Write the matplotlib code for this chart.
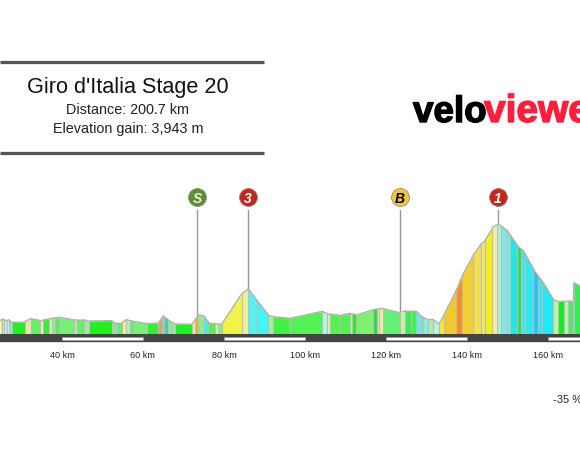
import numpy as np
import matplotlib
matplotlib.use("Agg")
import matplotlib.pyplot as plt
import matplotlib.patheffects as pe

plt.rcParams['font.family'] = ['Liberation Sans', 'DejaVu Sans']

profile_km = [24.69,25.35,25.84,26.34,26.83,27.41,27.65,30.86,30.94,32.26,34.73,35.39,37.04,39.34,43.21,45.68,46.50,52.26,53.08,54.73,55.80,57.61,60.90,63.78,65.02,66.25,67.90,72.01,73.82,75.06,76.37,79.42,84.36,86.0,90.94,92.18,96.30,
              104.28,105.60,108.65,111.11,112.76,116.88,118.93,123.29,124.69,127.57,128.56,130.45,131.52,133.09,134.32,137.20,138.93,141.57,143.62,144.45,146.50,147.74,149.80,152.68,153.91,156.79,158.85,161.32,162.55,165.02,166.26,166.42,167.90,168.7]
profile_m = [200,225,210,200,215,185,175,175,190,230,200,210,230,250,210,210,195,200,160,160,215,190,155,165,270,210,150,145,290,270,160,145,600,675,285,260,235,
             340,300,280,310,285,365,385,320,345,340,270,210,220,150,285,635,885,1185,1360,1395,1610,1650,1560,1310,1250,935,770,520,485,495,485,770,720,710]

segment_starts = [24.69,25.18,25.68,26.34,26.83,27.57,30.86,32.26,34.57,35.39,36.79,37.61,38.27,39.34,42.96,43.62,45.51,46.58,52.26,53.08,53.66,54.73,55.80,56.79,57.61,60.90,63.78,64.61,65.18,66.25,67.32,67.98,72.01,72.84,73.66,75.06,76.13,77.77,78.60,79.42,84.44,86.0,88.22,90.94,92.18,
                  96.30,104.28,105.52,106.18,108.73,111.11,111.53,112.68,116.71,117.78,118.36,119.18,123.38,124.69,126.09,127.49,128.56,129.22,130.45,131.52,133.09,134.32,137.29,138.85,141.57,143.54,144.45,146.09,147.41,148.31,149.80,150.62,152.43,153.25,154.40,156.38,157.61,158.52,161.32,162.47,164.03,165.02,166.26,166.42]
segment_end = 168.7
segment_colors = ['#eeee99','#c8f0b0','#b8f0e8','#eeeea0','#88e8e0','#22f022','#e0f0a0','#66f066','#e8f0c0','#33f033','#d0f0b0','#88f088','#55f055','#77f077','#b0f0a0','#66f066','#a8e8b0','#22f022','#88ee88','#88e8e0','#66ee66','#eeee99','#b0f0c0','#66ee66','#77f077','#33ee33','#d8a070','#77e077','#44c8c0','#88ee88','#b0f0e0','#22f022','#eeeea0','#f2b030','#88f088','#44eee8','#55f055','#e8f0a0','#88f088','#f2f24a','#eeee99','#55f2f0','#44f5f5','#a0f0a0','#44f044',
                  '#55f055','#b0f5e8','#e0f0a0','#55f055','#55f055','#d0e8c0','#22ee22','#80f070','#22dd44','#c0f0c0','#eeee99','#66f077','#c8f0a0','#33ee55','#44ee55','#66eeee','#88ee99','#88eee8','#b0f0a0','#b0f5e8','#f2ea30','#f2c830','#f59020','#f2d030','#f2e050','#f0e860','#f2f020','#eeeea0','#a8f0e0','#80e8e0','#80e8e8','#20e8e8','#30dd50','#40e8e8','#30e8f0','#30c0f0','#40e0f0','#20e8f5','#c0f0a0','#10ee20','#c0f0b0','#50e870','#999999','#33ee55']

tick_km = [40,60,80,100,120,140,160]
tick_labels = ['40 km','60 km','80 km','100 km','120 km','140 km','160 km']
marker_km = [73.33,85.93,123.46,147.65]
marker_text = ['S','3','B','1']
marker_colors = ['#5c8f2e','#c2281c','#f6c63a','#c2281c']
marker_text_colors = ['#e8f0e0','white','black','white']
band_starts = [40,80,120,160]
band_ends = [60,100,140,180]

title = "Giro d'Italia Stage 20"
subtitle = ['Distance: 200.7 km','Elevation gain: 3,943 m']

W, H = 580, 469
PX_PER_KM = 4.05
M_PER_PX = 15
km0 = 100/PX_PER_KM
fig = plt.figure(figsize=(W/100, H/100), dpi=100)
ax = fig.add_axes([0,0,1,1])
ax.set_xlim(km0, km0 + W/PX_PER_KM)
ax.set_ylim((334-H)*M_PER_PX, 334*M_PER_PX)
ax.axis('off')

edges = segment_starts + [segment_end]
pk, pm = np.array(profile_km), np.array(profile_m)
for a, b, c in zip(edges[:-1], edges[1:], segment_colors):
    inner = pk[(pk > a) & (pk < b)]
    xs = np.concatenate([[a], inner, [b]])
    ax.fill_between(xs, 0, np.interp(xs, pk, pm), color=c, lw=0, zorder=2)
ax.vlines(edges[1:-1], 0, np.interp(edges[1:-1], pk, pm), color='#bcbcbc', lw=0.8, zorder=3)
ax.plot(pk, pm, color='#b0b0b0', lw=1.0, zorder=4)

ax.axhspan(-120, 0, color='#444444', lw=0, zorder=5)
ax.axhline(-125, color='#d8d8d8', lw=0.6, zorder=5)
for a, b in zip(band_starts, band_ends):
    ax.fill_between([a, b], -85, -45, facecolor='white', edgecolor='#999999', lw=0.4, zorder=6)

for k, l in zip(tick_km, tick_labels):
    ax.text(k, (334-355)*M_PER_PX, l, ha='center', va='center', fontsize=6.6, color='#222222')

for k, t, c, tc in zip(marker_km, marker_text, marker_colors, marker_text_colors):
    top = np.interp(k, pk, pm)
    ax.plot([k, k], [top, (334-210)*M_PER_PX], color='#999999', lw=1.0, zorder=1)
    ax.scatter([k], [(334-197)*M_PER_PX], s=165, color=c, edgecolor='#888888', lw=0.6, zorder=7)
    ax.text(k, (334-197)*M_PER_PX, t, ha='center', va='center_baseline', color=tc, fontsize=10,
            fontweight='bold', style='italic', zorder=8)

def px(x, y):
    return x/W, 1 - y/H

for y in (62, 153):
    fig.add_artist(plt.Line2D([0, 264/W], [1-y/H, 1-y/H], color='#555555', lw=2.3, solid_capstyle='butt'))
fig.text(*px(128, 87), title, ha='center', va='center', fontsize=15.6, color='#111111')
fig.text(*px(128, 110), subtitle[0], ha='center', va='center', fontsize=10.4, color='#222222')
fig.text(*px(128, 129), subtitle[1], ha='center', va='center', fontsize=10.4, color='#222222')

fig.text(*px(413, 122), 'velo', ha='left', va='baseline', fontsize=26.5, fontweight='bold', color='black',
         path_effects=[pe.withStroke(linewidth=1.0, foreground='black')])
fig.text(*px(484, 122), 'viewer', ha='left', va='baseline', fontsize=28, fontweight='bold', color='#ff1f3d',
         path_effects=[pe.withStroke(linewidth=1.0, foreground='#ff1f3d')])
fig.text(*px(553, 400), '-35 %', ha='left', va='center', fontsize=8, color='#222222')

fig.savefig('out.png', dpi=100)
